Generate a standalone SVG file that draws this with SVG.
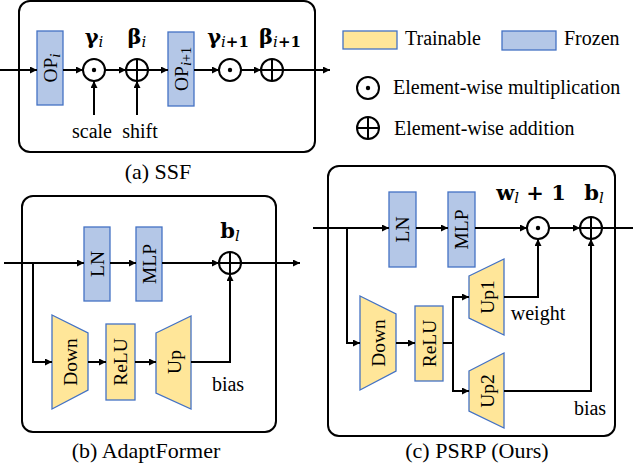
<svg xmlns="http://www.w3.org/2000/svg" width="633" height="476" viewBox="0 0 633 476">
<defs>
<style>
.panel{fill:none;stroke:#000;stroke-width:2}
.fz{fill:#B4C7E7;stroke:#4472C4;stroke-width:1.3}
.tr{fill:#FFE699;stroke:#4472C4;stroke-width:1.3}
.ln{fill:none;stroke:#000;stroke-width:2}
.arr{fill:none;stroke:#000;stroke-width:2;marker-end:url(#ah)}
.op{fill:#fff;stroke:#000;stroke-width:2}
.t{font-family:'Liberation Serif','Times New Roman',serif;font-size:20px;fill:#000}
.cap{font-family:'Liberation Serif','Times New Roman',serif;font-size:22px;fill:#000;text-anchor:middle}
.bt{font-family:'Liberation Serif','Times New Roman',serif;font-size:19.5px;fill:#000;text-anchor:middle;dominant-baseline:central}
.m{font-family:'DejaVu Serif','Liberation Serif',serif;font-size:21px;font-weight:bold;fill:#000;text-anchor:middle}
.sub{font-style:italic;font-weight:normal;font-size:15px}
</style>
<marker id="ah" viewBox="0 0 10 10" refX="10" refY="5" markerWidth="9" markerHeight="7" markerUnits="userSpaceOnUse" orient="auto"><path d="M0,0 L10,5 L0,10 z" fill="#000"/></marker>
</defs>

<!-- Panel (a) SSF -->
<g id="panel-a">
<rect class="panel" x="19" y="1" width="296" height="151" rx="11"/>
<text class="cap" x="158" y="179">(a) SSF</text>
</g>
<g id="a-op1"><rect class="fz" x="37" y="31" width="26" height="74"/>
<text class="bt" transform="translate(50,68) rotate(-90)">OP<tspan class="sub" font-size="14" dy="5">i</tspan></text></g>
<g id="a-mul1"><circle class="op" cx="94" cy="70" r="11"/><circle cx="94" cy="70" r="2.2"/>
<text class="m" x="94" y="44">γ<tspan class="sub" dy="3">i</tspan></text></g>
<g id="a-add1"><circle class="op" cx="137" cy="70" r="11"/><path class="ln" d="M126,70 H148 M137,59 V81"/>
<text class="m" x="137" y="44">β<tspan class="sub" dy="3">i</tspan></text></g>
<g id="a-op2"><rect class="fz" x="168" y="32" width="26" height="74"/>
<text class="bt" transform="translate(181,69) rotate(-90)">OP<tspan class="sub" font-size="14" dy="5">i</tspan><tspan font-size="14" dy="0">+1</tspan></text></g>
<g id="a-mul2"><circle class="op" cx="230" cy="70" r="11"/><circle cx="230" cy="70" r="2.2"/>
<text class="m" x="228" y="44">γ<tspan class="sub" dy="3">i</tspan><tspan class="sub" style="font-style:normal;font-weight:bold">+1</tspan></text></g>
<g id="a-add2"><circle class="op" cx="272" cy="70" r="11"/><path class="ln" d="M261,70 H283 M272,59 V81"/>
<text class="m" x="280" y="44">β<tspan class="sub" dy="3">i</tspan><tspan class="sub" style="font-style:normal;font-weight:bold">+1</tspan></text></g>
<g id="a-labels">
<text class="t" x="92" y="138" text-anchor="middle">scale</text>
<text class="t" x="140" y="138" text-anchor="middle">shift</text>
</g>

<!-- Legend -->
<g id="legend">
<rect class="tr" x="343" y="31" width="54" height="18"/>
<text class="t" x="405" y="45">Trainable</text>
<rect class="fz" x="502" y="31" width="54" height="19"/>
<text class="t" x="564" y="45">Frozen</text>
<circle class="op" cx="368" cy="88" r="11"/><circle cx="368" cy="88" r="2.2"/>
<text class="t" x="393" y="94">Element-wise multiplication</text>
<circle class="op" cx="368" cy="128" r="11"/><path class="ln" d="M357,128 H379 M368,117 V139"/>
<text class="t" x="394" y="135">Element-wise addition</text>
</g>

<!-- Panel (b) AdaptFormer -->
<g id="panel-b">
<rect class="panel" x="22" y="196" width="254" height="236" rx="11"/>
<text class="cap" x="146" y="458">(b) AdaptFormer</text>
</g>
<g id="b-ln"><rect class="fz" x="84" y="227" width="26" height="74"/><text class="bt" transform="translate(97,264) rotate(-90)">LN</text></g>
<g id="b-mlp"><rect class="fz" x="136" y="227" width="26" height="74"/><text class="bt" transform="translate(149,264) rotate(-90)">MLP</text></g>
<g id="b-add"><circle class="op" cx="230" cy="263" r="11"/><path class="ln" d="M219,263 H241 M230,252 V274"/>
<text class="m" x="230" y="238">b<tspan class="sub" dy="3">l</tspan></text></g>
<g id="b-down"><path class="tr" d="M52,315 L88,333 L88,390 L52,409 Z"/><text class="bt" transform="translate(70,362) rotate(-90)">Down</text></g>
<g id="b-relu"><rect class="tr" x="106" y="324" width="29" height="76"/><text class="bt" transform="translate(120.5,362) rotate(-90)">ReLU</text></g>
<g id="b-up"><path class="tr" d="M156,333 L191,316 L191,409 L156,393 Z"/><text class="bt" transform="translate(174,362) rotate(-90)">Up</text></g>
<g id="b-labels"><text class="t" x="228" y="391" text-anchor="middle">bias</text></g>

<!-- Panel (c) PSRP -->
<g id="panel-c">
<rect class="panel" x="328" y="166" width="287" height="270" rx="11"/>
<text class="cap" x="477" y="458">(c) PSRP (Ours)</text>
</g>
<g id="c-ln"><rect class="fz" x="389" y="192" width="27" height="75"/><text class="bt" transform="translate(402.5,229.5) rotate(-90)">LN</text></g>
<g id="c-mlp"><rect class="fz" x="448" y="192" width="27" height="75"/><text class="bt" transform="translate(461.5,229.5) rotate(-90)">MLP</text></g>
<g id="c-mul"><circle class="op" cx="538" cy="228" r="11"/><circle cx="538" cy="228" r="2.2"/>
<text class="m" x="531" y="200">w<tspan class="sub" dy="3">l</tspan><tspan dy="-3"> + 1</tspan></text></g>
<g id="c-add"><circle class="op" cx="591" cy="228" r="11"/><path class="ln" d="M580,228 H602 M591,217 V239"/>
<text class="m" x="594" y="200">b<tspan class="sub" dy="3">l</tspan></text></g>
<g id="c-down"><path class="tr" d="M360,296 L396,314 L396,371 L360,390 Z"/><text class="bt" transform="translate(378,343) rotate(-90)">Down</text></g>
<g id="c-relu"><rect class="tr" x="415" y="306" width="28" height="75"/><text class="bt" transform="translate(429,343.5) rotate(-90)">ReLU</text></g>
<g id="c-up1"><path class="tr" d="M469,276 L504,259 L504,335 L469,318 Z"/><text class="bt" transform="translate(487,297) rotate(-90)">Up1</text></g>
<g id="c-up2"><path class="tr" d="M469,371 L504,353 L504,428 L469,411 Z"/><text class="bt" transform="translate(487,391) rotate(-90)">Up2</text></g>
<g id="c-labels">
<text class="t" x="538" y="320" text-anchor="middle">weight</text>
<text class="t" x="590" y="415" text-anchor="middle">bias</text>
</g>

<!-- Connectors -->
<g id="connectors">
<path class="arr" d="M0,70 H37"/>
<path class="arr" d="M63,70 H83"/>
<path class="arr" d="M105,70 H126"/>
<path class="arr" d="M148,70 H168"/>
<path class="arr" d="M194,70 H219"/>
<path class="arr" d="M241,70 H261"/>
<path class="arr" d="M283,70 H330"/>
<path class="arr" d="M94,115 V81"/>
<path class="arr" d="M137,115 V81"/>

<path class="arr" d="M4,263 H84"/>
<path class="arr" d="M110,263 H136"/>
<path class="arr" d="M162,263 H219"/>
<path class="arr" d="M241,263 H300"/>
<path class="arr" d="M33,263 V362 H52"/>
<path class="arr" d="M88,362 H106"/>
<path class="arr" d="M135,362 H156"/>
<path class="arr" d="M191,362 H230 V274"/>

<path class="arr" d="M313,228 H389"/>
<path class="arr" d="M416,228 H448"/>
<path class="arr" d="M475,228 H527"/>
<path class="arr" d="M549,228 H580"/>
<path class="ln" d="M602,228 H633"/>
<path class="arr" d="M347,228 V343 H360"/>
<path class="arr" d="M396,343 H415"/>
<path class="ln" d="M443,343 H453 M453,296 V392"/>
<path class="arr" d="M452,297 H469"/>
<path class="arr" d="M452,391 H469"/>
<path class="arr" d="M504,297 H538 V239"/>
<path class="arr" d="M504,391 H591 V239"/>
</g>
</svg>
